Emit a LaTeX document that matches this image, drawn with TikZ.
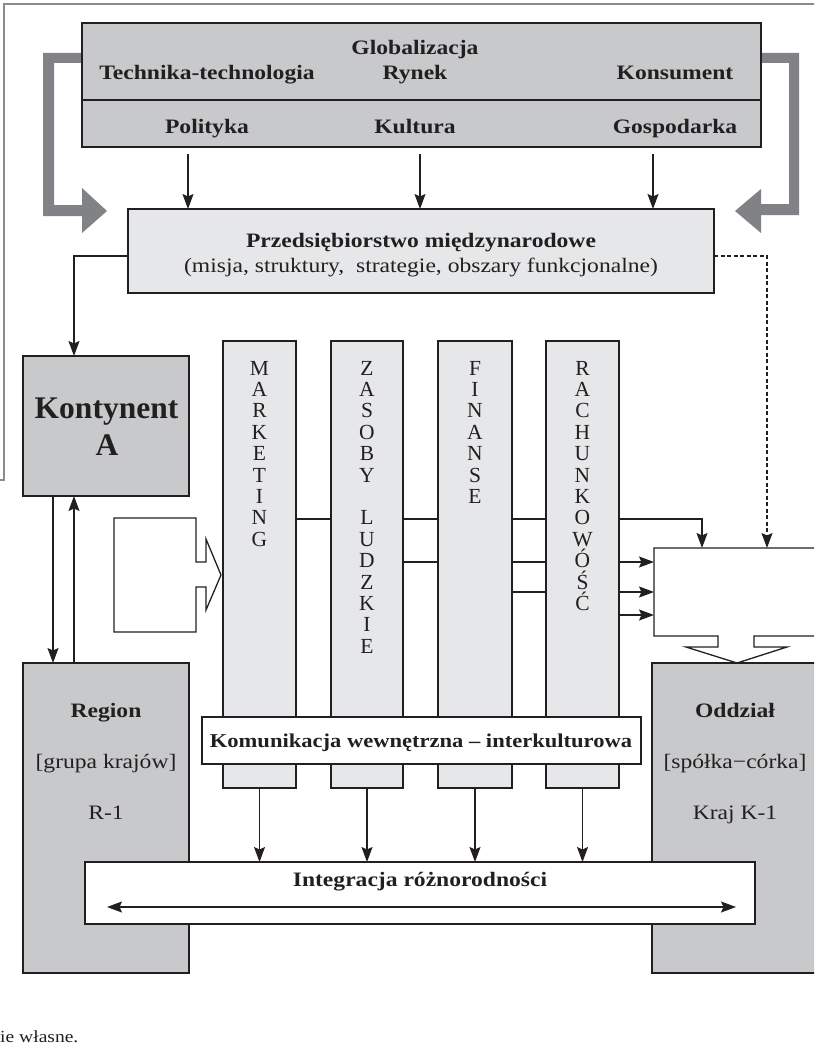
\documentclass[tikz,border=0pt]{standalone}
\usepackage{fontspec}
\setmainfont{Liberation Serif}
\newfontfamily\pal[FakeStretch=1.15]{Liberation Serif}
\usetikzlibrary{arrows.meta,calc}
\definecolor{boxdark}{HTML}{C8C9CB}
\definecolor{boxlight}{HTML}{E6E7E8}
\definecolor{bandgray}{HTML}{808285}
\definecolor{framegray}{HTML}{8C8C8C}
\definecolor{ink}{HTML}{231F20}
\tikzset{
  rbox/.style={draw=ink, line width=1.3pt, inner sep=0pt, outer sep=0pt, anchor=north west},
  darkbox/.style={rbox, fill=boxdark},
  lightbox/.style={rbox, fill=boxlight},
  whitebox/.style={rbox, fill=white},
  ghost/.style={inner sep=0pt, outer sep=0pt, anchor=north west},
  lbl/.style={inner sep=0pt, anchor=base, text=ink, font=\pal\fontsize{20.5}{24}\selectfont},
  lblb/.style={lbl, font=\pal\bfseries\fontsize{20.5}{24}\selectfont},
  vlet/.style={inner sep=0pt, anchor=base, text=ink, font=\fontsize{21.5}{21.4}\selectfont},
  arr/.style={draw=ink, line width=1.3pt, -{Stealth[length=15pt,width=11pt,inset=2.5pt]}},
  band/.style={fill=bandgray, draw=none},
}
\begin{document}
\begin{tikzpicture}[x=1pt, y=-1pt]
\useasboundingbox (0,0) rectangle (814,1049);
\clip (0,0) rectangle (814,1049);
\fill[white] (0,0) rectangle (814,1049);

% outer frame
\draw[framegray, line width=2pt] (-3,480) -- (4,480) -- (4,4) -- (830,4);

% thick gray arrows
\path[band] (82,53) -- (43,53) -- (43,216) -- (82,216) -- (82,233) -- (107,211) -- (82,188) -- (82,205) -- (54,205) -- (54,63) -- (82,63) -- cycle;
\path[band] (761,53) -- (799,53) -- (799,215) -- (761,215) -- (761,233) -- (735,211) -- (761,189) -- (761,204) -- (789,204) -- (789,63) -- (761,63) -- cycle;

% top box
\node[darkbox, minimum width=679pt, minimum height=77pt] (topA) at (82,23) {};
\node[darkbox, minimum width=679pt, minimum height=47pt] (topB) at (82,100) {};
\node[lblb] (glob) at (415,55) {Globalizacja};
\node[lblb] (tech) at (207,80) {Technika-technologia};
\node[lblb] (rynek) at (415,80) {Rynek};
\node[lblb] (kons) at (675,80) {Konsument};
\node[lblb] (pol) at (207,133) {Polityka};
\node[lblb] (kult) at (415,133) {Kultura};
\node[lblb] (gosp) at (675,133) {Gospodarka};

% firm box
\node[lightbox, minimum width=586pt, minimum height=84pt] (firm) at (128,209) {};
\node[lblb] (firmT) at (421,247) {Przedsiębiorstwo międzynarodowe};
\node[lbl] (firmS) at (421,272) {(misja, struktury,\ \ strategie, obszary funkcjonalne)};

\coordinate (ca) at (188,154);
\coordinate (cb) at (420,154);
\coordinate (cc) at (653,154);
\draw[arr] (ca) -- (ca |- firm.north);
\draw[arr] (cb) -- (cb |- firm.north);
\draw[arr] (cc) -- (cc |- firm.north);

% side boxes
\node[darkbox, minimum width=166pt, minimum height=140pt] (kont) at (23,356) {};
\node[inner sep=0pt, anchor=base, text=ink, font=\bfseries\fontsize{31.5}{36}\selectfont] (kont1) at (106.5,418) {Kontynent};
\node[inner sep=0pt, anchor=base, text=ink, font=\bfseries\fontsize{31.5}{36}\selectfont] (kont2) at (107,455) {A};

\node[darkbox, minimum width=166pt, minimum height=310pt] (region) at (23,663) {};
\node[lblb] (reg1) at (106,717) {Region};
\node[lbl] (reg2) at (106,768) {[grupa krajów]};
\node[lbl] (reg3) at (106,819) {R-1};

\node[darkbox, minimum width=190pt, minimum height=310pt] (oddz) at (652,663) {};
\node[lblb] (odd1) at (735,717) {Oddział};
\node[lbl] (odd2) at (735,768) {[spółka−córka]};
\node[lbl] (odd3) at (735,819) {Kraj K-1};

% helper nodes for the notched shapes
\node[ghost, minimum width=82pt, minimum height=114pt] (inbox) at (114,518) {};
\node[ghost, minimum width=180pt, minimum height=88pt] (rbx) at (654,548) {};

\coordinate (h1) at (0,519);
\coordinate (h2) at (0,562);
\coordinate (h3) at (0,592);
\coordinate (h4) at (0,615);
\coordinate (v1) at (702,0);
\coordinate (v2) at (767,0);
\coordinate (v3) at (74,0);
\coordinate (v4) at (53,0);

% connector lines behind the columns
\draw[arr] (296,519) -| (v1 |- rbx.north);
\draw[arr] (403,562) -- (rbx.west |- h2);
\draw[arr] (512,592) -- (rbx.west |- h3);
\draw[arr] (619,615) -- (rbx.west |- h4);

% columns
\node[lightbox, minimum width=73pt, minimum height=447pt] (mkt) at (223,341) {};
\node[lightbox, minimum width=72pt, minimum height=447pt] (zas) at (331,341) {};
\node[lightbox, minimum width=74pt, minimum height=447pt] (fin) at (438,341) {};
\node[lightbox, minimum width=73pt, minimum height=447pt] (rach) at (546,341) {};

\foreach \l [count=\i] in {M,A,R,K,E,T,I,N,G}
  \node[vlet] (mkt-\i) at (259.5,{375+21.4*(\i-1)}) {\l};
\foreach \l [count=\i] in {Z,A,S,O,B,Y,{},L,U,D,Z,K,I,E}
  \node[vlet] (zas-\i) at (367,{375+21.4*(\i-1)}) {\l};
\foreach \l [count=\i] in {F,I,N,A,N,S,E}
  \node[vlet] (fin-\i) at (475,{375+21.4*(\i-1)}) {\l};
\foreach \l [count=\i] in {R,A,C,H,U,N,K,O,W,Ó,Ś,Ć}
  \node[vlet] (rach-\i) at (582.5,{375+21.4*(\i-1)}) {\l};

% notched input shape (left)
\draw[ink, line width=1.3pt, fill=white] (inbox.north west) -- (196,518) -- (196,562) -- (206,562) -- (206,539) -- (221,575) -- (206,610) -- (206,587) -- (196,587) -- (196,632) -- (inbox.south west) -- cycle;

% right box with downward arrow
\draw[ink, line width=1.3pt, fill=white] (rbx.north west) -- (840,548) -- (840,636) -- (754,636) -- (754,647) -- (787,647) -- (737,663) -- (686,647) -- (718,647) -- (718,636) -- (rbx.south west) -- cycle;

% communication box
\node[whitebox, minimum width=439pt, minimum height=47pt] (komu) at (202,717) {};
\node[lblb, font=\pal\bfseries\fontsize{19.6}{24}\selectfont] (komuT) at (421,747) {Komunikacja wewnętrzna – interkulturowa};

% integration box
\node[whitebox, minimum width=670pt, minimum height=62pt] (integ) at (85,862) {};
\node[lblb] (integT) at (420,886) {Integracja różnorodności};
\coordinate (dL) at (107,907);
\coordinate (dR) at (736,907);
\draw[draw=ink, line width=1.3pt, {Stealth[length=15pt,width=11pt,inset=2.5pt]}-{Stealth[length=15pt,width=11pt,inset=2.5pt]}] (dL) -- (dR);

% column arrows
\draw[arr] (mkt.south) -- (mkt.south |- integ.north);
\draw[arr] (zas.south) -- (zas.south |- integ.north);
\draw[arr] (fin.south) -- (fin.south |- integ.north);
\draw[arr] (rach.south) -- (rach.south |- integ.north);

% firm connectors
\draw[arr] ([yshift=-5pt]firm.west) -| (v3 |- kont.north);
\draw[arr, line width=1.1pt, dash pattern=on 4pt off 2.5pt] ([yshift=-5pt]firm.east) -| (v2 |- rbx.north);

% kontynent <-> region
\draw[arr] (v4 |- kont.south) -- (v4 |- region.north);
\draw[arr] (v3 |- region.north) -- (v3 |- kont.south);

% footer
\node[inner sep=0pt, anchor=base west, text=ink, font=\pal\fontsize{17}{20}\selectfont] (foot) at (0,1042) {ie własne.};
\end{tikzpicture}
\end{document}
